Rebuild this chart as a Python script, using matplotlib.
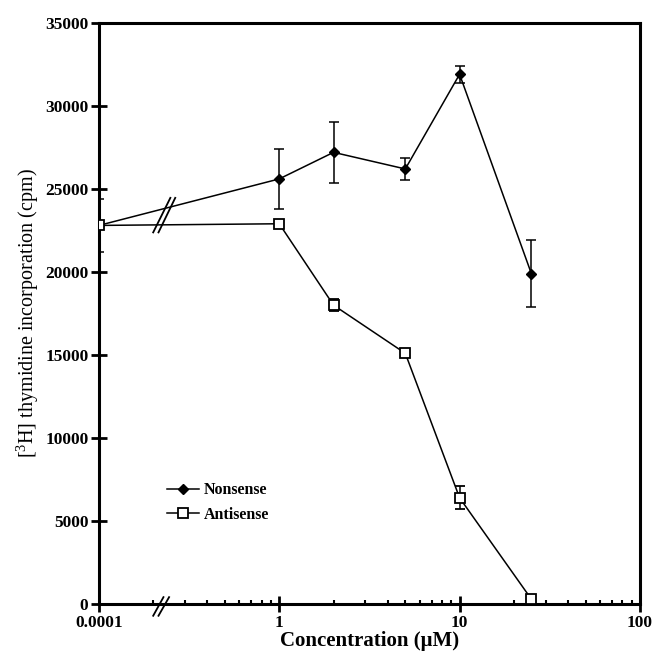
import matplotlib
matplotlib.use("Agg")
import matplotlib.pyplot as plt
import matplotlib.transforms as mtransforms
from matplotlib.lines import Line2D
import numpy as np

# ---- data ----
concentration = [0.0001, 1, 2, 5, 10, 25]
nonsense = [22800, 25600, 27200, 26200, 31900, 19900]
nonsense_err = [1600, 1800, 1850, 650, 500, 2000]
antisense = [22800, 22900, 18000, 15100, 6400, 300]
antisense_err = [100, 100, 350, 200, 700, 200]
xtick_values = [0.0001, 1, 10, 100]
xtick_labels = ["0.0001", "1", "10", "100"]
ytick_values = [0, 5000, 10000, 15000, 20000, 25000, 30000, 35000]

# broken axis: the control (0.0001) is drawn at 0.1 on the log axis
BREAK_POS = 0.1
def xp(v):
    return [BREAK_POS if c < BREAK_POS else c for c in v]

plt.rcParams['font.family'] = ['Liberation Serif', 'DejaVu Serif']

fig = plt.figure(figsize=(6.55, 6.51), dpi=100)
ax = fig.add_axes([0.151, 0.072, 0.826, 0.893])

ax.set_xscale('log')
ax.set_xlim(0.1, 100)
ax.set_ylim(0, 35000)

ax.errorbar(xp(concentration), nonsense, yerr=nonsense_err, color='black',
            marker='D', markersize=5.5, markerfacecolor='black', lw=1.1,
            elinewidth=1.1, capsize=3.5, capthick=1.1, zorder=3)
ax.errorbar(xp(concentration), antisense, yerr=antisense_err, color='black',
            marker='s', markersize=7, markerfacecolor='white', markeredgewidth=1.3,
            lw=1.1, elinewidth=1.1, capsize=3.5, capthick=1.1, zorder=3)

# ticks
ax.set_xticks(xp(xtick_values))
ax.set_xticklabels(xtick_labels)
minor = [0.2, 0.3, 0.4, 0.5, 0.6, 0.7, 0.8, 0.9,
         2, 3, 4, 5, 6, 7, 8, 9, 20, 30, 40, 50, 60, 70, 80, 90]
ax.set_xticks(minor, minor=True)
ax.xaxis.set_minor_formatter(matplotlib.ticker.NullFormatter())
ax.set_yticks(ytick_values)
ax.set_yticklabels([str(v) for v in ytick_values])

ax.tick_params(axis='both', which='major', direction='inout', length=11, width=2,
               labelsize=12.5, pad=2)
ax.tick_params(axis='x', which='minor', direction='in', length=3, width=1.5)
for lab in ax.get_xticklabels() + ax.get_yticklabels():
    lab.set_fontweight('bold')

for s in ax.spines.values():
    s.set_linewidth(2.2)

ax.set_xlabel('Concentration (\u03bcM)', fontsize=15, fontweight='bold', labelpad=0)
ax.set_ylabel('[$\\mathregular{^3}$H] thymidine incorporation (cpm)', fontsize=14.5, labelpad=3)

# break marks on x axis
trans = mtransforms.blended_transform_factory(ax.transData, ax.transAxes)
for x0, x1 in [(0.200, 0.228), (0.214, 0.245)]:
    ax.add_line(Line2D([x0, x1], [-0.02, 0.012], transform=trans, color='black',
                       lw=1.3, clip_on=False))
# break marks across the lines
for x0, x1 in [(0.200, 0.249), (0.214, 0.265)]:
    ax.add_line(Line2D([x0, x1], [22380, 24460], color='black', lw=1.3))

handles = [Line2D([], [], color='black', marker='D', markersize=5.5, lw=1.1),
           Line2D([], [], color='black', marker='s', markersize=7, lw=1.1,
                  markerfacecolor='white', markeredgewidth=1.3)]
ax.legend(handles, ['Nonsense', 'Antisense'], loc='lower left',
          bbox_to_anchor=(0.1, 0.115), frameon=False,
          prop={'weight': 'bold', 'size': 11.5}, handlelength=2.0,
          labelspacing=0.55, handletextpad=0.3)

fig.savefig('out.png', dpi=100)
